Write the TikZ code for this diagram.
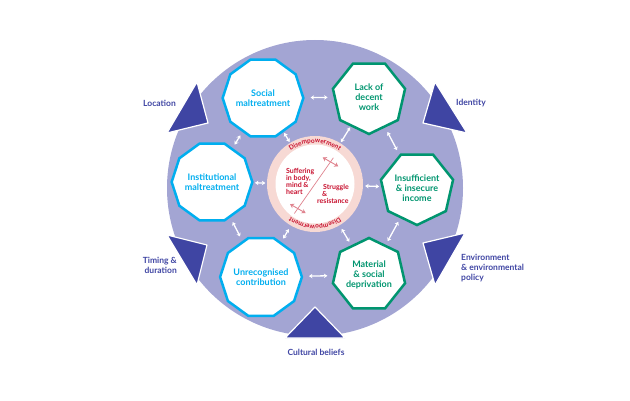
\documentclass[tikz,border=0pt]{standalone}
\usepackage{fontspec}
\setmainfont{Lato}
\usetikzlibrary{shapes.geometric,arrows.meta,decorations.text}
\definecolor{lavender}{HTML}{A3A5D3}
\definecolor{indigo}{HTML}{3F45A3}
\definecolor{cyanblue}{HTML}{00AEEF}
\definecolor{greenish}{HTML}{00956F}
\definecolor{pinkring}{HTML}{F7D9D4}
\definecolor{darkred}{HTML}{C8102E}
\definecolor{pinkline}{HTML}{E0848F}

\begin{document}
\begin{tikzpicture}[x=1pt,y=1pt,
    blue poly/.style={regular polygon, regular polygon sides=10, minimum size=72pt, inner sep=0pt,
      draw=cyanblue, line width=2.5pt, fill=white, text=cyanblue, align=center,
      font=\fontsize{9}{10}\selectfont\bfseries},
    green poly/.style={regular polygon, regular polygon sides=7, minimum size=74pt, inner sep=0pt,
      draw=greenish, line width=2.5pt, fill=white, text=greenish, align=center,
      font=\fontsize{9}{10}\selectfont\bfseries},
    link/.style={white, line width=1.3pt, {Stealth[length=3.5pt,width=4.5pt]}-{Stealth[length=3.5pt,width=4.5pt]},
      shorten <=#1, shorten >=#1},
    link/.default=3pt,
    tri/.style={fill=indigo, draw=white, line width=1.2pt, line join=round},
    outer label/.style={text=indigo, inner sep=0pt, font=\fontsize{8.5}{10}\selectfont\bfseries},
    core text/.style={text=darkred, inner sep=0pt, font=\fontsize{7}{7}\selectfont\bfseries},
    ring text/.style={decorate, decoration={text along path, text align=center,
      text={|\fontsize{6.5}{7}\selectfont\bfseries\color{darkred}|Disempowerment}}}]
  \useasboundingbox (0,0) rectangle (630,400);
  \fill[lavender] (315,212) circle[radius=148pt];
  % outside factors
  \foreach \ax/\ay/\bx/\by/\cx/\cy in {197/318/167/267/208/277, 435/318/423/277/467/267,
      167/165/207/155/197/115, 465/167/423/157/435/115, 315/93/285/62/345/62}{%
    \filldraw[tri] (\ax,\ay) -- (\bx,\by) -- (\cx,\cy) -- cycle;
  }
  \node[outer label, anchor=east] (location) at (176,297) {Location};
  \node[outer label, anchor=west] (identity) at (456,297) {Identity};
  \node[outer label, anchor=east, align=right] (timing) at (177,135) {Timing \&\\duration};
  \node[outer label, anchor=west, align=left] (environment) at (461,132) {Environment\\\& environmental\\policy};
  \node[outer label] (beliefs) at (316,48) {Cultural beliefs};
  % dimensions
  \node[blue poly] (social) at (263,302) {Social\\maltreatment};
  \node[green poly, shape border rotate=180] (work) at (369,303) {Lack of\\decent\\work};
  \node[blue poly] (inst) at (212,218) {Institutional\\maltreatment};
  \node[green poly, shape border rotate=180] (income) at (417,212) {Insufficient\\\& insecure\\income};
  \node[blue poly] (contrib) at (261,123) {Unrecognised\\contribution};
  \node[green poly] (deprivation) at (369,125) {Material\\\& social\\deprivation};
  % core experiences
  \node[circle, fill=pinkring, minimum size=96pt, inner sep=0pt] (core) at (315,216) {};
  \fill[white] (core.center) circle[radius=39.5pt];
  \path[ring text] (core.center) ++(165:41pt) arc[start angle=165, end angle=15, radius=41pt];
  \path[ring text] (core.center) ++(-15:41pt) arc[start angle=-15, end angle=-165, radius=41pt];
  \path (core.center) ++(235:36pt) coordinate (low end);
  \path (core.center) ++(55:32pt) coordinate (top end);
  \path (core.center) ++(235:30pt) coordinate (low mark);
  \path (core.center) ++(55:27pt) coordinate (top mark);
  \draw[pinkline, line width=0.7pt] (low end) -- (top end);
  \foreach \m in {low mark, top mark}{%
    \draw[pinkline, line width=0.9pt, {Stealth[length=4pt,width=5pt]}-{Stealth[length=4pt,width=5pt]}]
      (\m) ++(150:9pt) -- ++(-30:18pt);
  }
  \node[core text, anchor=west, align=left] (suffering) at (286,219) {Suffering\\in body,\\mind \&\\heart};
  \node[core text, anchor=west, align=left] (struggle) at (317,206) {\hspace{6pt}Struggle\\\hspace{5pt}\&\\resistance};
  % links
  \draw[link=6pt] (social) -- (work);
  \draw[link=6pt] (contrib) -- (deprivation);
  \draw[link=4pt] (social) -- (inst);
  \draw[link=5pt] (inst) -- (contrib);
  \draw[link=5pt] (work) -- (income);
  \draw[link=4pt] (income) -- (deprivation);
  \draw[link=1pt] (social) -- (core);
  \draw[link=1pt] (work) -- (core);
  \draw[link=1.5pt] (inst) -- (core);
  \draw[link=2pt] (income) -- (core);
  \draw[link=4pt] (contrib) -- (core);
  \draw[link=4pt] (deprivation) -- (core);
\end{tikzpicture}
\end{document}
